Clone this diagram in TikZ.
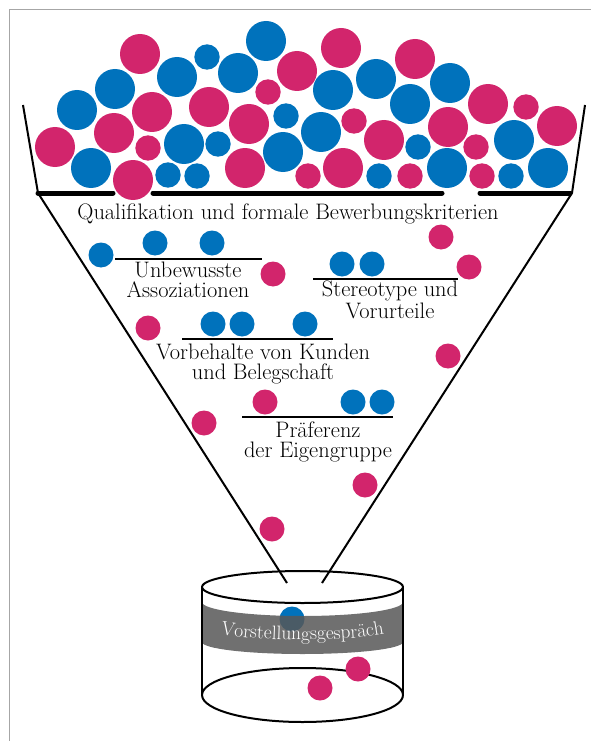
\documentclass[tikz,border=0pt]{standalone}
\usepackage{fontspec}
\usetikzlibrary{decorations.text}
\definecolor{ballblue}{RGB}{0,114,188}
\definecolor{ballpink}{RGB}{210,37,108}

\begin{document}
\begin{tikzpicture}[x=1pt,y=-1pt,
    blueball/.style={fill=ballblue},
    pinkball/.style={fill=ballpink},
    shelf/.style={line width=5pt,line cap=round},
    bar/.style={line width=2.5pt},
    wall/.style={line width=2pt,line join=round},
    critlabel/.style={align=center,anchor=base,inner sep=0pt,
      font=\fontsize{22.4}{20}\selectfont}]
  \useasboundingbox (0,0) rectangle (591,741);
  \draw[black!35,line width=1pt] (9,741) -- (9,10) -- (591,10);

  % funnel
  \coordinate (rimL) at (23,105);
  \coordinate (lipL) at (38,193);
  \coordinate (spoutL) at (287,583);
  \coordinate (rimR) at (585,105);
  \coordinate (lipR) at (572,193);
  \coordinate (spoutR) at (322,583);
  \draw[wall] (rimL) -- (lipL) -- (spoutL);
  \draw[wall] (rimR) -- (lipR) -- (spoutR);
  \draw[shelf] (38,193) -- (113,193);
  \draw[shelf] (153,193) -- (442,193);
  \draw[shelf] (480,193) -- (570,193);

  % applicants on top
  \foreach \x/\y in {266/41,177/77,238/73,115/89,77/110,184/144,283/152,91/168,
      333/90,376/79,450/83,410/104,321/132,514/140,447/168,548/168}
    \fill[blueball] (\x,\y) circle (20pt);
  \foreach \x/\y in {140/54,297/71,152/112,209/107,249/124,114/133,55/147,133/180,
      245/168,341/48,415/59,488/104,557/126,384/140,448/127,343/168}
    \fill[pinkball] (\x,\y) circle (20pt);
  \foreach \x/\y in {207/57,286/116,218/144,168/175,197/176,418/147,379/176,511/176}
    \fill[blueball] (\x,\y) circle (12.7pt);
  \foreach \x/\y in {268/92,148/148,308/176,526/107,354/121,476/147,410/176,482/176}
    \fill[pinkball] (\x,\y) circle (12.7pt);

  % filters
  \node[critlabel] (qual) at (288,219) {Qualifikation und formale Bewerbungskriterien};
  \node[critlabel] (assoc) at (188,297) {Unbewusste\\Assoziationen};
  \node[critlabel] (stereo) at (390,318) {Stereotype und\\Vorurteile};
  \node[critlabel] (kunden) at (263,379) {Vorbehalte von Kunden\\und Belegschaft};
  \node[critlabel] (eigen) at (318,457) {Präferenz\\der Eigengruppe};
  \draw[bar] (115,259) -- (262,259);
  \draw[bar] (313,279) -- (458,279);
  \draw[bar] (182,339) -- (333,339);
  \draw[bar] (242,417) -- (393,417);

  \foreach \x/\y in {101/255,155/243,212/243,342/264,372/264,213/324,242/324,
      305/324,353/402,382/402,292/619}
    \fill[blueball] (\x,\y) circle (12.5pt);
  \foreach \x/\y in {273/274,441/237,469/267,148/328,448/356,265/402,204/423,
      365/485,272/529}
    \fill[pinkball] (\x,\y) circle (12.5pt);

  % interview
  \coordinate (cyltop) at (302.5,587);
  \coordinate (cylbot) at (302.5,695);
  \fill[black!66,opacity=0.85] (202,602)
    arc[start angle=180,end angle=360,x radius=100.5pt,y radius=14pt]
    -- (403,642)
    arc[start angle=0,end angle=-180,x radius=100.5pt,y radius=12pt] -- cycle;
  \path[decorate,decoration={text along path,text align=center,
      text={|\color{white}\fontsize{19.5}{19.5}\selectfont|Vorstellungsgespräch}}]
    (202,626) arc[start angle=180,end angle=360,x radius=100.5pt,y radius=14pt];
  \draw[wall] (cyltop) ellipse (100.5pt and 16pt);
  \draw[wall] (cylbot) ellipse (100.5pt and 27pt);
  \draw[wall] ([xshift=-100.5pt]cyltop) -- ([xshift=-100.5pt]cylbot);
  \draw[wall] ([xshift=100.5pt]cyltop) -- ([xshift=100.5pt]cylbot);
  \foreach \x/\y in {358/669,320/688}
    \fill[pinkball] (\x,\y) circle (12.5pt);
\end{tikzpicture}
\end{document}
